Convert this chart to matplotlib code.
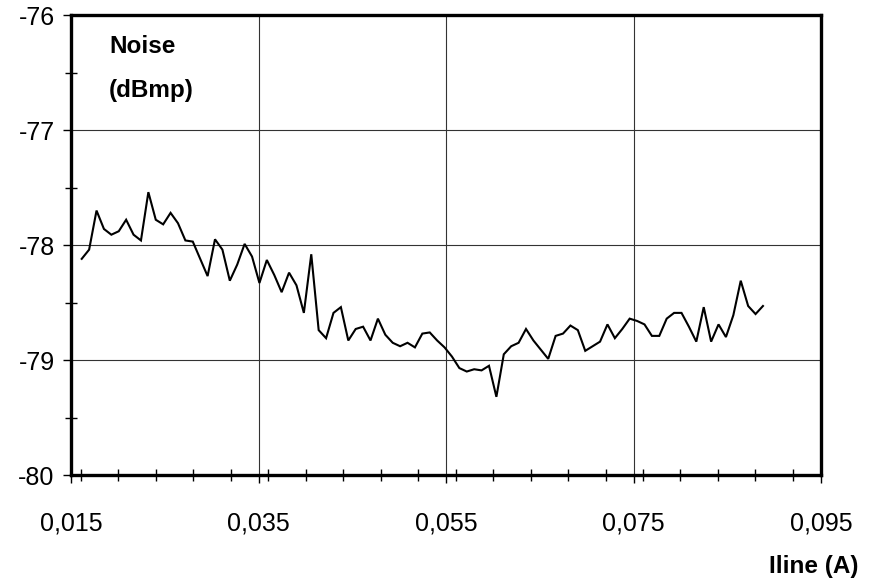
import numpy as np
import matplotlib
matplotlib.use("Agg")
import matplotlib.pyplot as plt
from matplotlib.ticker import MultipleLocator, FuncFormatter

# line current sweep (A): 93 evenly spaced points
i_start, i_stop, n_pts = 0.0161, 0.0888, 93

noise_dbmp = [
    -78.12, -78.04, -77.70, -77.86, -77.91, -77.88, -77.78, -77.91, -77.96, -77.54,
    -77.78, -77.82, -77.72, -77.81, -77.96, -77.97, -78.12, -78.27, -77.95, -78.04,
    -78.31, -78.17, -77.99, -78.10, -78.33, -78.13, -78.26, -78.41, -78.24, -78.35,
    -78.59, -78.08, -78.74, -78.81, -78.59, -78.54, -78.83, -78.73, -78.71, -78.83,
    -78.64, -78.78, -78.85, -78.88, -78.85, -78.89, -78.77, -78.76, -78.83, -78.89,
    -78.97, -79.07, -79.10, -79.08, -79.09, -79.05, -79.32, -78.95, -78.88, -78.85,
    -78.73, -78.83, -78.91, -78.99, -78.79, -78.77, -78.70, -78.74, -78.92, -78.88,
    -78.84, -78.69, -78.81, -78.73, -78.64, -78.66, -78.69, -78.79, -78.79, -78.64,
    -78.59, -78.59, -78.71, -78.84, -78.54, -78.84, -78.69, -78.80, -78.61, -78.31,
    -78.53, -78.60, -78.53,
]

x_ticks = [0.015, 0.035, 0.055, 0.075, 0.095]
y_ticks = [-80, -79, -78, -77, -76]

iline = np.linspace(i_start, i_stop, n_pts)

plt.rcParams["font.family"] = ["Liberation Sans", "DejaVu Sans"]

fig = plt.figure(figsize=(8.73, 5.80), dpi=100)
ax = fig.add_axes([0.0818, 0.181, 0.8587, 0.793])

ax.plot(iline, noise_dbmp, color="black", lw=1.5, solid_joinstyle="miter")

ax.set_xlim(0.015, 0.095)
ax.set_ylim(-80, -76)
ax.set_xticks(x_ticks)
ax.set_yticks(y_ticks)
ax.xaxis.set_minor_locator(MultipleLocator(0.004))
ax.yaxis.set_minor_locator(MultipleLocator(0.5))
ax.xaxis.set_major_formatter(FuncFormatter(lambda v, p: f"{v:.3f}".replace(".", ",")))
ax.yaxis.set_major_formatter(FuncFormatter(lambda v, p: f"{v:.0f}"))

ax.grid(True, which="major", color="#333333", lw=0.8)
for s in ax.spines.values():
    s.set_linewidth(2.4)

ax.tick_params(axis="both", which="major", direction="out", length=6, width=1,
               labelsize=18)
ax.tick_params(axis="x", which="major", pad=20)
ax.tick_params(axis="y", which="major", pad=6)
ax.tick_params(axis="both", which="minor", direction="inout", length=8, width=1)

ax.text(0.05, 0.957, "Noise\n(dBmp)", transform=ax.transAxes, fontsize=17.5,
        fontweight="bold", va="top", ha="left", linespacing=2.2)
fig.text(0.983, 0.004, "Iline (A)", fontsize=17.5, fontweight="bold",
         ha="right", va="bottom")

fig.savefig("out.png", dpi=100)
